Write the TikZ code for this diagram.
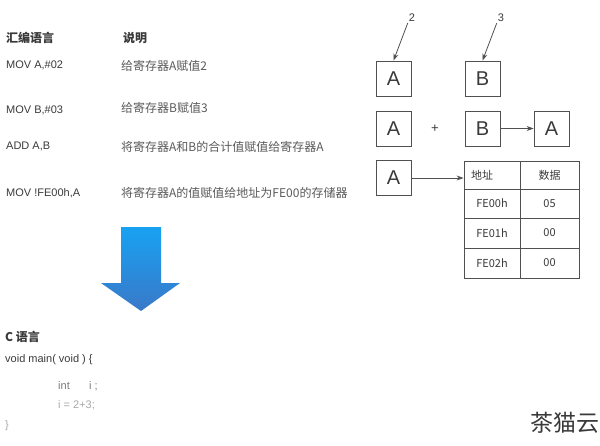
\documentclass[tikz,border=0pt]{standalone}
\usepackage{fontspec}
\setmainfont{Liberation Sans}
\newfontfamily\cjk{Noto Sans CJK SC}
\usetikzlibrary{arrows.meta}
\definecolor{txt}{HTML}{3A3A3A}
\definecolor{desc}{HTML}{5A5A5A}
\definecolor{linec}{HTML}{505050}
\definecolor{light}{HTML}{7A7A7A}
\definecolor{lighter}{HTML}{A8A8A8}
\definecolor{btop}{HTML}{18A2F2}
\definecolor{bbot}{HTML}{3A78C8}
\begin{document}
\begin{tikzpicture}[x=1pt,y=-1pt,
  asm/.style={anchor=west, inner sep=0pt, text=txt, font=\fontsize{11}{13}\selectfont},
  desc/.style={anchor=west, inner sep=0pt, text=desc, font=\cjk\fontsize{12}{14}\selectfont},
  head/.style={anchor=west, inner sep=0pt, text=txt, font=\cjk\bfseries\fontsize{12}{14}\selectfont},
  reg/.style={draw=linec, line width=0.8pt, minimum size=35pt, inner sep=0pt, text=txt, font=\fontsize{20}{22}\selectfont},
  cell/.style={draw=linec, line width=0.8pt, inner sep=0pt, text=txt, font=\cjk\fontsize{11}{13}\selectfont},
  lbl/.style={inner sep=1pt, text=txt, font=\fontsize{11}{13}\selectfont},
  arr/.style={draw=linec, line width=0.8pt, -{Stealth[length=7pt,width=5pt]}}]
\useasboundingbox (0,0) rectangle (600,445);

% left table
\node[head] (h1) at (6,38) {汇编语言};
\node[head] (h2) at (123,38) {说明};
\node[asm] (a1) at (6,65) {MOV A,\#02};
\node[desc] (d1) at (121,66) {给寄存器A赋值2};
\node[asm] (a2) at (6,110) {MOV B,\#03};
\node[desc] (d2) at (121,108) {给寄存器B赋值3};
\node[asm] (a3) at (6,146) {ADD A,B};
\node[desc] (d3) at (121,147) {将寄存器A和B的合计值赋值给寄存器A};
\node[asm] (a4) at (6,193) {MOV !FE00h,A};
\node[desc] (d4) at (121,193) {将寄存器A的值赋值给地址为FE00的存储器};

% big arrow
\shade[top color=btop, bottom color=bbot]
  (121,227) -- (161,227) -- (161,283) -- (180,283) -- (141,311) -- (101,283) -- (121,283) -- cycle;

% C code
\node[head] (c0) at (5,337) {C 语言};
\node[asm] (c1) at (5,360) {void main( void ) \{};
\node[asm, text=light] (c2) at (58,386) {int};
\node[asm, text=light] (c2b) at (89,386) {i ;};
\node[asm, text=lighter] (c3) at (58,405) {i = 2+3;};
\node[asm, text=lighter] (c4) at (5,426) {\}};

% registers
\node[reg] (A1) at (393.5,78.5) {A};
\node[reg] (B1) at (482.5,78.5) {B};
\node[lbl] (l2) at (412,18) {2};
\node[lbl] (l3) at (501,18) {3};
\draw[arr] (l2.south west) -- (A1.north);
\draw[arr] (l3.south west) -- (B1.north);

\node[reg] (A2) at (393.5,128.5) {A};
\node[text=txt, font=\fontsize{13}{15}\selectfont] (plus) at (435,129) {+};
\node[reg] (B2) at (482.5,128.5) {B};
\node[reg] (A3) at (551.5,128.5) {A};
\draw[arr] (B2.east) -- (A3.west);

\node[reg] (A4) at (393.5,178) {A};

% memory table
\node[cell, minimum width=56pt, minimum height=28pt] (t11) at (492,175) {};
\node[cell, minimum width=59pt, minimum height=28pt] (t12) at (549.5,175) {数据};
\node[cell, minimum width=56pt, minimum height=29pt] (t21) at (492,203.5) {FE00h};
\node[cell, minimum width=59pt, minimum height=29pt] (t22) at (549.5,203.5) {05};
\node[cell, minimum width=56pt, minimum height=30pt] (t31) at (492,233) {FE01h};
\node[cell, minimum width=59pt, minimum height=30pt] (t32) at (549.5,233) {00};
\node[cell, minimum width=56pt, minimum height=30pt] (t41) at (492,263) {FE02h};
\node[cell, minimum width=59pt, minimum height=30pt] (t42) at (549.5,263) {00};
\node[anchor=west, inner sep=0pt, text=txt, font=\cjk\fontsize{11}{13}\selectfont] (addr) at (471,175) {地址};
\draw[arr] (A4.east) -- (A4.east -| t11.west);

% watermark
\node[anchor=east, inner sep=0pt, text=txt, font=\cjk\fontsize{23}{25}\selectfont] (wm) at (600,423) {茶猫云};
\end{tikzpicture}
\end{document}
